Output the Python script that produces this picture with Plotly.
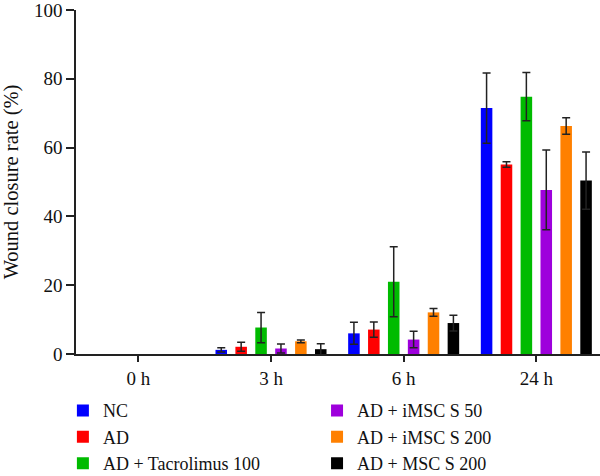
import plotly.graph_objects as go

categories = ["0 h", "3 h", "6 h", "24 h"]
groups = ["NC", "AD", "AD + Tacrolimus 100", "AD + iMSC S 50", "AD + iMSC S 200", "AD + MSC S 200"]
colors = ["#0000FF", "#FF0000", "#00BB00", "#9E00DC", "#FF8000", "#000000"]

# mean wound closure rate (%) at 0 h, 3 h, 6 h, 24 h
means = {
    "NC": [0, 1.2, 6.0, 71.5],
    "AD": [0, 2.1, 7.1, 55.1],
    "AD + Tacrolimus 100": [0, 7.7, 21.0, 74.8],
    "AD + iMSC S 50": [0, 1.6, 4.2, 47.7],
    "AD + iMSC S 200": [0, 3.7, 12.1, 66.3],
    "AD + MSC S 200": [0, 1.4, 9.0, 50.4],
}
# error at 3 h, 6 h, 24 h (no error bar drawn at 0 h)
errors = {
    "NC": [0.6, 3.2, 10.2],
    "AD": [1.3, 2.2, 0.8],
    "AD + Tacrolimus 100": [4.4, 10.2, 7.0],
    "AD + iMSC S 50": [1.3, 2.4, 11.6],
    "AD + iMSC S 200": [0.4, 1.1, 2.4],
    "AD + MSC S 200": [1.6, 2.3, 8.3],
}

FONT = "Liberation Serif"
fig = go.Figure()
for i, g in enumerate(groups):
    # 0 h point placed last so that the shorter error array leaves it without an error bar
    xs = categories[1:] + categories[:1]
    ys = means[g][1:] + means[g][:1]
    fig.add_trace(go.Bar(
        name=g, x=xs, y=ys,
        marker=dict(color=colors[i], line=dict(width=0)),
        error_y=dict(type="data", array=errors[g], visible=True,
                     color="#222222", thickness=1.5, width=4),
        legend="legend" if i < 3 else "legend2",
    ))

leg_common = dict(yref="container", y=0.176, xanchor="left", yanchor="top", orientation="v",
                  font=dict(size=18, family=FONT), itemclick=False, itemdoubleclick=False,
                  bgcolor="rgba(0,0,0,0)")

fig.update_layout(
    width=600, height=476,
    margin=dict(l=76, r=0, t=7, b=122),
    paper_bgcolor="white", plot_bgcolor="white",
    barmode="group", bargap=0.1, bargroupgap=0.42,
    font=dict(family=FONT, size=18, color="#111111"),
    xaxis=dict(range=[-0.47, 3.48], categoryorder="array", categoryarray=categories,
               showline=True, linecolor="#222222", linewidth=1.5,
               ticks="outside", ticklen=6, tickwidth=1.5, tickcolor="#222222",
               showgrid=False, zeroline=False, tickfont=dict(size=19)),
    yaxis=dict(range=[0, 100], tick0=0, dtick=20, showline=True, linecolor="#222222", linewidth=1.5,
               ticks="outside", ticklen=8, tickwidth=1.5, tickcolor="#222222",
               ticklabeloverflow="allow",
               showgrid=False, zeroline=False, tickfont=dict(size=19),
               title=dict(text="Wound closure rate (%)", font=dict(size=20.5), standoff=10)),
    legend=dict(x=-0.025, **leg_common),
    legend2=dict(x=0.46, **leg_common),
)

fig.write_html("out.html")
